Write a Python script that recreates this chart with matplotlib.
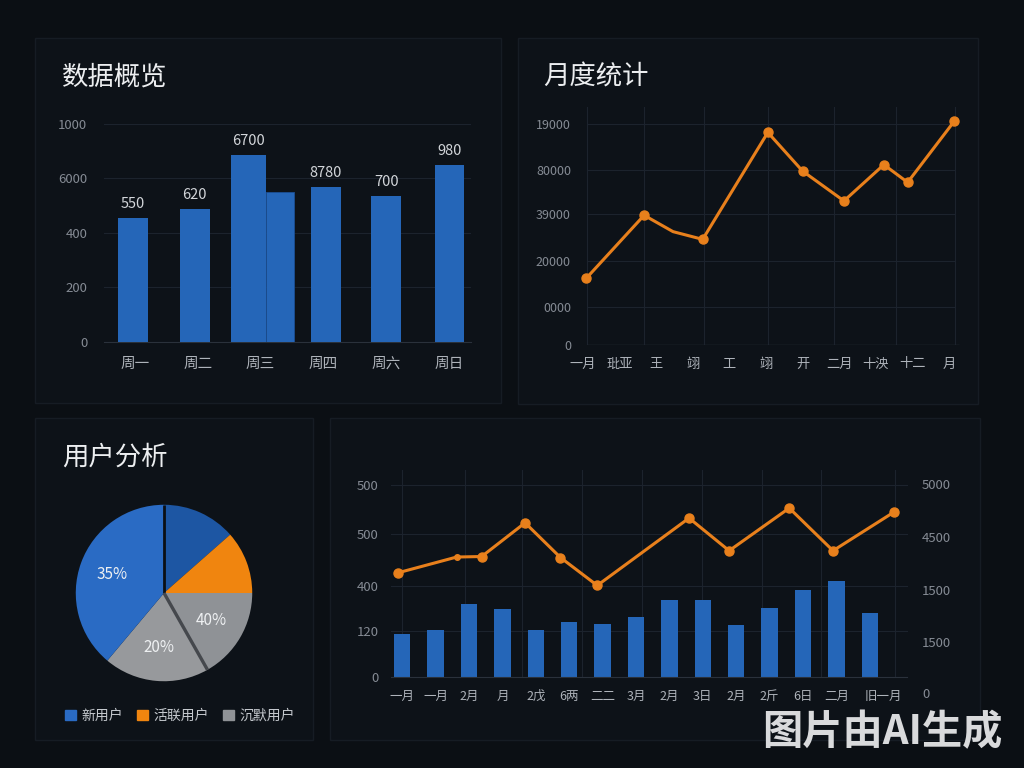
import numpy as np, matplotlib
matplotlib.use("Agg")
import matplotlib.pyplot as plt
from matplotlib.patches import Rectangle, Patch
from matplotlib.transforms import blended_transform_factory

plt.rcParams['font.family'] = ['Noto Sans CJK SC', 'DejaVu Sans']

# ---- data ----
week_labels = ['周一', '周二', '周三', '周四', '周六', '周日']
week_values = [569, 611, 857, 710, 671, 813]
week_texts = ['550', '620', '6700', '8780', '700', '980']
wed_extra = 687
week_yticks = [0, 250, 500, 750, 1000]
week_yticklabels = ['0', '200', '400', '6000', '1000']

month_labels = ['一月', '玭亚', '王', '翊', '工', '翊', '开', '二月', '十泱', '十二', '月']
month_x = [0.09, 1.67, 2.46, 3.27, 5.05, 6.0, 7.13, 8.22, 8.87, 10.14]
month_y = [30.2, 58.7, 51.3, 47.8, 96.2, 78.7, 65.2, 81.6, 73.6, 101.2]
month_yticks = [0, 17.3, 38, 59.1, 79.2, 100]
month_yticklabels = ['0', '0000', '20000', '39000', '80000', '19000']
month_vgrid = [0.1, 1.67, 3.31, 5.06, 6.87, 8.54, 10.16]

user_labels = ['新用户', '活联用户', '沉默用户']
pie_shares = [13.5, 11.5, 16.8, 19.3, 38.9]
pie_texts = ['', '', '40%', '20%', '35%']

combo_labels = ['一月', '一月', '2月', '月', '2戊', '6两', '二二', '3月', '2月', '3日', '2月', '2斤', '6日', '二月', '旧一月']
combo_bars = [112, 123, 191, 177, 123, 143, 138, 156, 201, 202, 137, 181, 227, 250, 166]
combo_line_x = [-0.13, 1.63, 2.38, 3.68, 4.74, 5.84, 8.59, 9.79, 11.59, 12.9, 14.74]
combo_line_y = [2320, 2620, 2630, 3270, 2610, 2080, 3360, 2740, 3550, 2740, 3480]
combo_yticks = [0, 120, 238, 372, 500]
combo_yticklabels = ['0', '120', '400', '500', '500']
combo_rticks = [1000, 2000, 3000, 4000]
combo_rticklabels = ['1500', '1500', '4500', '5000']
combo_vgrid = [0, 1.87, 3.59, 5.39, 7.18, 8.98, 10.77, 12.54, 14.76]

# ---- style ----
BG, PANEL, EDGE = '#0b0f14', '#0d1218', '#161c24'
GRID, AXIS = '#1c232d', '#2a313b'
BLUE, ORANGE = '#2566b8', '#e8801c'
TICK, XT, TITLE = '#858b94', '#aeb3ba', '#eceef0'

W, H = 1024, 768
fig = plt.figure(figsize=(W/100, H/100), dpi=100, facecolor=BG)

def px_axes(l, t, r, b):
    a = fig.add_axes([l/W, 1-b/H, (r-l)/W, (b-t)/H])
    a.set_facecolor('none')
    for s in a.spines.values(): s.set_visible(False)
    a.tick_params(length=0)
    return a

for l, t, r, b in [(35, 38, 501, 403), (518, 38, 978, 404), (35, 418, 313, 740), (330, 418, 980, 740)]:
    fig.add_artist(Rectangle((l/W, 1-b/H), (r-l)/W, (b-t)/H, transform=fig.transFigure,
                             facecolor=PANEL, edgecolor=EDGE, lw=1, zorder=-1))

for x, y, s in [(62, 77, '数据概览'), (543, 77, '月度统计'), (62, 457, '用户分析')]:
    fig.text(x/W, 1-y/H, s, color=TITLE, fontsize=19, va='center', ha='left')

# ============ panel 1: bar overview ============
ax1 = px_axes(104, 124, 471, 341.7)
xs = np.arange(len(week_labels)) + np.array([-0.03, -0.05, -0.19, 0.04, 0.0, 0.01])
ws = [0.48, 0.48, 0.56, 0.48, 0.47, 0.47]
ax1.bar(xs, week_values, width=ws, color=BLUE, zorder=3)
ax1.bar(2.31, wed_extra, width=0.45, color=BLUE, edgecolor='#1b4f94', lw=0.6, zorder=3)
for xv, v, s in zip(xs, week_values, week_texts):
    ax1.annotate(s, (xv, v), xytext=(0, 5), textcoords='offset points', ha='center', va='bottom',
                 color='#d3d6da', fontsize=10.5)
ax1.set_xlim(-0.494, 5.35); ax1.set_ylim(0, 1000)
ax1.set_yticks(week_yticks, week_yticklabels)
ax1.set_xticks(np.arange(len(week_labels)), week_labels)
ax1.yaxis.grid(True, color=GRID, lw=0.8); ax1.set_axisbelow(True)
ax1.spines['bottom'].set_visible(True); ax1.spines['bottom'].set_color(AXIS)
ax1.tick_params(axis='y', colors=TICK, labelsize=9.5, pad=12)
ax1.tick_params(axis='x', colors=XT, labelsize=10.5, pad=11)

# ============ panel 2: monthly line ============
ax2 = px_axes(582, 107, 960, 345)
ax2.set_xlim(-0.027, 10.3); ax2.set_ylim(0, 107.7)
for gx in month_vgrid:
    ax2.axvline(gx, color=GRID, lw=0.8, zorder=0)
ax2.hlines(month_yticks[1:], 0.1, 10.16, color=GRID, lw=0.8, zorder=0)
ax2.hlines(0, 0.1, 10.26, color=AXIS, lw=1, zorder=0)
ax2.plot(month_x, month_y, color=ORANGE, lw=2.2, marker='o', ms=6.5,
         markevery=[0, 1, 3, 4, 5, 6, 7, 8, 9], zorder=3, clip_on=False)
ax2.set_yticks(month_yticks, month_yticklabels)
ax2.set_xticks(np.arange(len(month_labels)), month_labels)
ax2.tick_params(axis='y', colors=TICK, labelsize=9, pad=8)
ax2.tick_params(axis='x', colors=XT, labelsize=9.5, pad=9)

# ============ panel 3: pie ============
ax3 = px_axes(74, 503, 254, 683)
pie_colors = ['#1d56a3', '#f0850f', '#8f9296', '#97999c', '#2a6bc4']
wedges, _ = ax3.pie(pie_shares, colors=pie_colors, startangle=90, counterclock=False,
                    radius=1, wedgeprops=dict(linewidth=0))
for wd, s in zip(wedges, pie_texts):
    if s:
        a = np.deg2rad((wd.theta1 + wd.theta2) / 2)
        ax3.text(0.62*np.cos(a), 0.62*np.sin(a), s, color='#eef0f2', fontsize=11, ha='center', va='center')
for ang, col, lw in [(wedges[0].theta2, BG, 2.0), (wedges[2].theta1, '#45484d', 2.4)]:
    a = np.deg2rad(ang)
    ax3.plot([0, np.cos(a)], [0, np.sin(a)], color=col, lw=lw, solid_capstyle='butt')
ax3.set_xlim(-1.02, 1.02); ax3.set_ylim(-1.02, 1.02); ax3.set_aspect('equal')
ax3.set_xticks([]); ax3.set_yticks([])
fig.legend(handles=[Patch(color=c) for c in ['#2a6bc4', '#f0850f', '#8f9296']], labels=user_labels,
           loc='center', bbox_to_anchor=(180/W, 1-716/H), ncol=3, frameon=False, fontsize=10,
           handlelength=0.8, handleheight=0.8, handletextpad=0.4, columnspacing=1.0, labelcolor='#c5c9ce')

# ============ panel 4: bars + line, twin axes ============
ax4 = px_axes(391, 470, 907.5, 677.3)
ax4.bar(np.arange(len(combo_bars)), combo_bars, width=0.49, color=BLUE, zorder=2)
ax4.set_xlim(-0.335, 15.13); ax4.set_ylim(0, 539)
for gx in combo_vgrid:
    ax4.axvline(gx, color=GRID, lw=0.8, zorder=0)
ax4.set_yticks(combo_yticks, combo_yticklabels)
ax4.yaxis.grid(True, color=GRID, lw=0.8); ax4.set_axisbelow(True)
ax4.spines['bottom'].set_visible(True); ax4.spines['bottom'].set_color(AXIS)
ax4.set_xticks(list(range(14)) + [14.4], combo_labels)
ax4.tick_params(axis='y', colors=TICK, labelsize=9.5, pad=9)
ax4.tick_params(axis='x', colors=XT, labelsize=9, pad=9)
ax4r = ax4.twinx(); ax4r.set_facecolor('none')
for s in ax4r.spines.values(): s.set_visible(False)
ax4r.set_ylim(336, 4273)
ax4r.plot(combo_line_x, combo_line_y, color=ORANGE, lw=2.2, marker='o', ms=6.5,
          markevery=[0, 2, 3, 4, 5, 6, 7, 8, 9, 10], zorder=3, clip_on=False)
ax4r.plot(combo_line_x[1], combo_line_y[1], 'o', color=ORANGE, ms=4, zorder=3)
ax4r.set_yticks(combo_rticks, combo_rticklabels)
ax4r.tick_params(axis='y', length=0, colors=TICK, labelsize=9.5, pad=10)
ax4r.text(1 + 15/516.5, 0, '0', transform=blended_transform_factory(ax4r.transAxes, ax4r.transData),
          clip_on=False, ha='left', va='center', color=TICK, fontsize=9.5)

fig.text(762/W, 1-733/H, '图片由AI生成', color='#d9dadc', fontsize=29, fontweight='bold', va='center', ha='left')

fig.savefig('out.png', dpi=100, facecolor=BG)
